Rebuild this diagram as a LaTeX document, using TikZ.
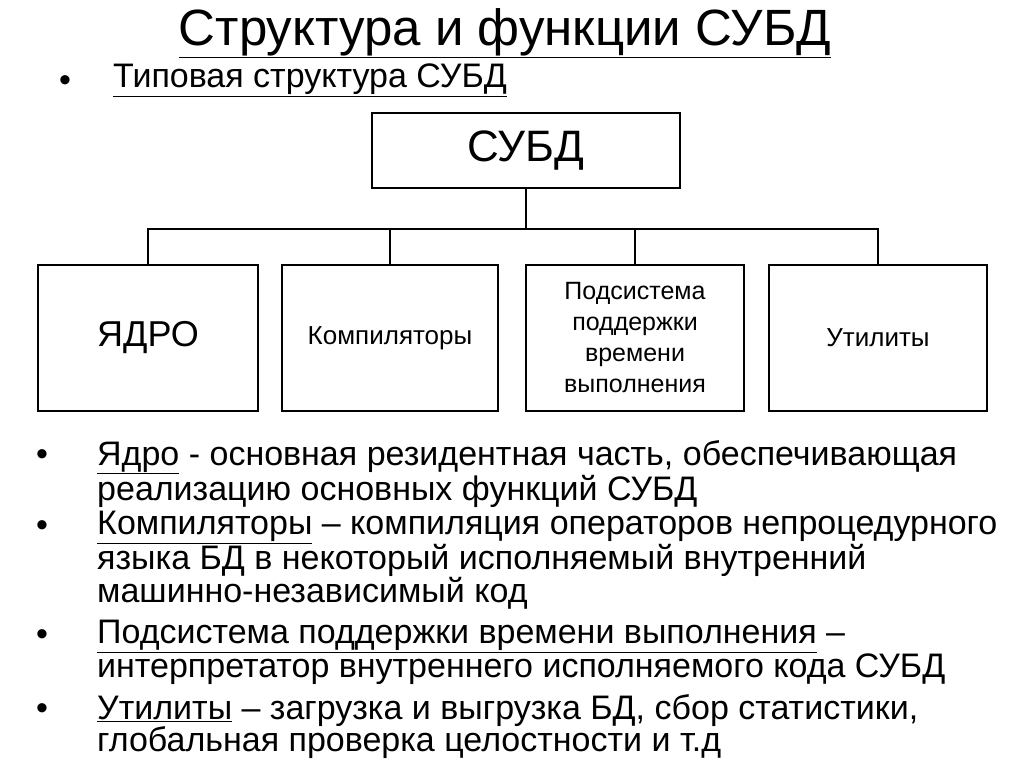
\documentclass[tikz,border=0pt]{standalone}
\usepackage{fontspec}
\setmainfont{Liberation Sans}
\begin{document}
\begin{tikzpicture}[x=1pt,y=-1pt,
  box/.style={draw,line width=1.5pt,inner sep=0pt,align=center},
  line/.style={line width=1.5pt},
  btxt/.style={anchor=west,inner sep=0pt,font=\fontsize{34}{32.5}\selectfont,align=left},
  bul/.style={anchor=center,inner sep=0pt,font=\fontsize{34}{32}\selectfont}]
\useasboundingbox (0,0) rectangle (1024,767);
\node[inner sep=0pt,font=\fontsize{51}{55}\selectfont] (title) at (505,33) {\underline{Структура и функции СУБД}};
\node[bul] (b0) at (65,84) {•};
\node[btxt,font=\fontsize{34}{36}\selectfont] (sub) at (113,80) {\underline{Типовая структура СУБД}};
\node[box,minimum width=308,minimum height=75,font=\fontsize{44}{48}\selectfont] (dbms) at (526,150.5) {СУБД};
\node[box,minimum width=220,minimum height=146,font=\fontsize{36}{40}\selectfont] (k) at (148,338) {ЯДРО};
\node[box,minimum width=216,minimum height=146,font=\fontsize{26}{31}\selectfont] (c) at (390,338) {Компиляторы};
\node[box,minimum width=218,minimum height=146,font=\fontsize{25}{31}\selectfont] (r) at (635,338) {Подсистема\\поддержки\\времени\\выполнения};
\node[box,minimum width=218,minimum height=146,font=\fontsize{26}{31}\selectfont] (u) at (878,338) {Утилиты};
\coordinate (j) at (526,229);
\draw[line] (dbms.south) -- (j);
\draw[line] (k.north) |- (j) -| (u.north);
\draw[line] (c.north) -- (c.north |- j);
\draw[line] (r.north) -- (r.north |- j);
\foreach \y/\n in {458/1,529/2,638/3,712/4} \node[bul] (bb\n) at (42,\y) {•};
\node[btxt,anchor=north west] (t1) at (97,440) {\underline{Ядро} - основная резидентная часть, обеспечивающая\\реализацию основных функций СУБД};
\node[btxt,anchor=north west] (t2) at (97,511) {\underline{Компиляторы} – компиляция операторов непроцедурного\\языка БД в некоторый исполняемый внутренний\\машинно-независимый код};
\node[btxt,anchor=north west] (t3) at (97,620) {\underline{Подсистема поддержки времени выполнения} –\\интерпретатор внутреннего исполняемого кода СУБД};
\node[btxt,anchor=north west] (t4) at (97,694) {\underline{Утилиты} – загрузка и выгрузка БД, сбор статистики,\\глобальная проверка целостности и т.д};
\end{tikzpicture}
\end{document}
